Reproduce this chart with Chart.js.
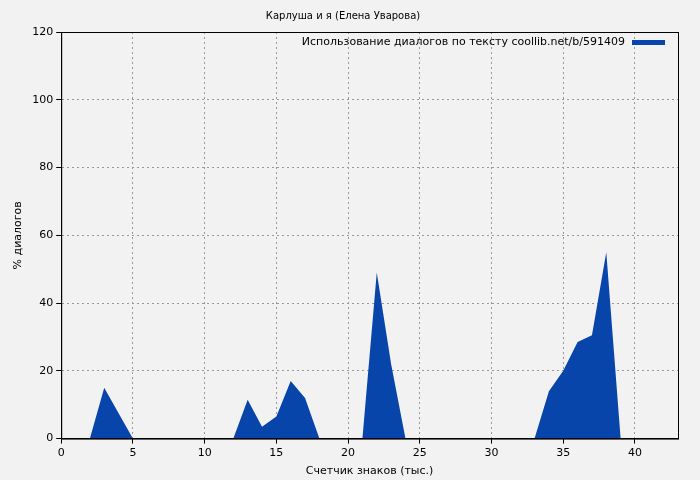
<!DOCTYPE html>
<html lang="ru">
<head>
<meta charset="UTF-8">
<title>Карлуша и я</title>
<script src="https://cdn.jsdelivr.net/npm/chart.js"></script>
<style>
  body { margin: 0; background: #f2f2f2; }
  #wrap { width: 700px; height: 480px; }
</style>
</head>
<body>
<div id="wrap"><canvas id="c"></canvas></div>
<script>
// thousands of characters and % of dialogue at each point
var positions = [0,1,2,3,4,5,6,7,8,9,10,11,12,13,14,15,16,17,18,19,20,21,22,23,24,25,26,27,28,29,30,31,32,33,34,35,36,37,38,39,40,41,42,43];
var dialogs   = [0,0,0,15,7.5,0,0,0,0,0,0,0,0,11.5,3.5,6.5,17,12,0,0,0,0,49,22,0,0,0,0,0,0,0,0,0,0,14,20,28.5,30.5,55,0,0,0,0,0];
var xTicks = [0,5,10,15,20,25,30,35,40];
var yTicks = [0,20,40,60,80,100,120];
var seriesLabel = 'Использование диалогов по тексту coollib.net/b/591409';

var points = positions.map(function (x, i) { return { x: x, y: dialogs[i] }; });
var font = { family: 'DejaVu Sans', size: 11 };

new Chart(document.getElementById('c'), {
  type: 'line',
  data: {
    datasets: [{
      label: seriesLabel,
      data: points,
      fill: 'origin',
      backgroundColor: '#0745ab',
      borderColor: '#0745ab',
      borderWidth: 0,
      pointRadius: 0,
      tension: 0
    }]
  },
  options: {
    responsive: true,
    maintainAspectRatio: false,
    animation: false,
    layout: { padding: { left: 8, right: 22, top: 0, bottom: 0 } },
    plugins: {
      title: { display: true, text: 'Карлуша и я (Елена Уварова)', color: '#000', font: { family: 'DejaVu Sans', size: 10, weight: 'normal' }, padding: { top: 10, bottom: 10 } },
      legend: { display: false },
      tooltip: { enabled: false }
    },
    scales: {
      x: {
        type: 'linear', min: 0, max: 43,
        title: { display: true, text: 'Счетчик знаков (тыс.)', color: '#000', font: font, padding: 2 },
        ticks: { color: '#000', font: font, maxRotation: 0 },
        afterBuildTicks: function (a) { a.ticks = xTicks.map(function (v) { return { value: v }; }); },
        grid: { color: '#999', tickColor: '#000', tickLength: 5 },
        border: { color: '#000', dash: [2, 3] }
      },
      y: {
        min: 0, max: 120,
        title: { display: true, text: '% диалогов', color: '#000', font: font },
        ticks: { color: '#000', font: font },
        afterBuildTicks: function (a) { a.ticks = yTicks.map(function (v) { return { value: v }; }); },
        grid: { color: '#999', tickColor: '#000', tickLength: 5 },
        border: { color: '#000', dash: [2, 3] }
      }
    }
  },
  plugins: [{
    id: 'frameLegend',
    afterDraw: function (chart) {
      var a = chart.chartArea, ctx = chart.ctx;
      ctx.save();
      ctx.strokeStyle = '#000';
      ctx.lineWidth = 1;
      ctx.strokeRect(a.left + 0.5, a.top + 0.5, a.right - a.left, a.bottom - a.top);
      // legend inside the plot, top right
      var y = a.top + 10;
      ctx.fillStyle = '#0745ab';
      ctx.fillRect(a.right - 46, y - 2, 33, 5);
      ctx.fillStyle = '#000';
      ctx.font = '11px "DejaVu Sans"';
      ctx.textAlign = 'right';
      ctx.textBaseline = 'middle';
      ctx.fillText(seriesLabel, a.right - 53, y);
      ctx.restore();
    }
  }]
});
</script>
</body>
</html>
